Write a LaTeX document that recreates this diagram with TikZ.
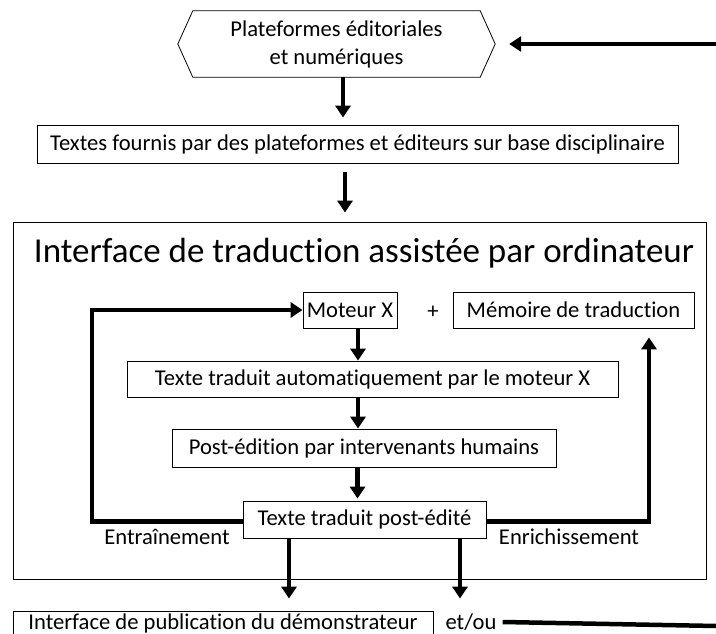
\documentclass[tikz,border=0pt]{standalone}
\usepackage{fontspec}
\setmainfont{Carlito}[Ligatures=NoCommon]
\usetikzlibrary{arrows.meta,calc}
\begin{document}
\begin{tikzpicture}[x=1pt,y=-1pt,
  box/.style={draw, line width=0.8pt, inner sep=0pt, font=\fontsize{22.6}{28}\selectfont},
  lbl/.style={inner sep=0pt, font=\fontsize{22.6}{28}\selectfont},
  bigarrow/.style={line width=4.5pt, -{Triangle[width=15pt,length=12pt]}},
  plainthick/.style={line width=4.5pt}]
\useasboundingbox (0,0) rectangle (716,634);
\clip (0,0) rectangle (716,634);

% hexagon
\node[lbl, align=center, minimum width=317pt, minimum height=66pt] (hex) at (336.5,44)
  {Plateformes éditoriales\\et numériques};
\draw[line width=0.8pt] (hex.west) -- ($(hex.north west)+(15,0)$) -- ($(hex.north east)+(-15,0)$)
  -- (hex.east) -- ($(hex.south east)+(-15,0)$) -- ($(hex.south west)+(15,0)$) -- cycle;

\node[box, minimum width=641pt, minimum height=38pt] (fournis) at (357.5,144)
  {Textes fournis par des plateformes et éditeurs sur base disciplinaire};

\node[box, minimum width=693pt, minimum height=357pt] (big) at (359.5,400.5) {};
\node[lbl, font=\fontsize{35}{40}\selectfont] (title) at (364,253)
  {Interface de traduction assistée par ordinateur};

\node[box, minimum width=94pt, minimum height=36pt] (moteur) at (350,310) {Moteur X};
\node[lbl] (plus) at (433,312) {+};
\node[box, minimum width=241pt, minimum height=36pt] (memoire) at (573.5,310) {Mémoire de traduction};
\node[box, minimum width=491pt, minimum height=36pt] (auto) at (372.5,379)
  {Texte traduit automatiquement par le moteur X};
\node[box, minimum width=384pt, minimum height=38pt] (post) at (364,448)
  {Post-édition par intervenants humains};
\node[box, minimum width=243pt, minimum height=37pt] (ppe) at (364.5,519.5)
  {Texte traduit post-édité};

\node[lbl] (entr) at (167,537) {Entraînement};
\node[lbl] (enri) at (569,537) {Enrichissement};

\node[box, minimum width=420pt, minimum height=24pt] (pub) at (223,623)
  {Interface de publication du démonstrateur};
\node[lbl] (etou) at (471,622) {et/ou};

\coordinate (rin) at (716,44);
\coordinate (etend) at (716,626);
\coordinate (lc) at (92,310);

% arrows
\draw[bigarrow, shorten >=14pt] (rin) -- (hex.east);
\draw[bigarrow, shorten >=7pt] ([xshift=6.5]hex.south) -- ([xshift=6.5]hex.south |- fournis.north);
\draw[bigarrow, shorten <=9pt, shorten >=9pt] ([xshift=-12.5]fournis.south) -- ([xshift=-12.5]fournis.south |- big.north);
\draw[bigarrow] ([xshift=8]moteur.south) -- ([xshift=8]moteur.south |- auto.north);
\draw[bigarrow] ([xshift=-14.5]auto.south) -- ([xshift=-14.5]auto.south |- post.north);
\draw[bigarrow, shorten >=2pt] ([xshift=-6.5]post.south) -- ([xshift=-6.5]post.south |- ppe.north);
\draw[bigarrow] ([yshift=-2]ppe.west) -| (lc) -- (moteur.west);
\draw[bigarrow, shorten >=9pt] ([yshift=-2]ppe.east) -| ([xshift=75.5]memoire.south);
\draw[bigarrow, shorten >=12pt] ([xshift=-75.5]ppe.south) -- ([xshift=-75.5]ppe.south |- pub.north);
\draw[bigarrow, shorten >=12pt] ([xshift=95.5]ppe.south) -- ([xshift=95.5]ppe.south |- pub.north);
\draw[plainthick] ([xshift=6]etou.east) -- (etend);
\end{tikzpicture}
\end{document}
